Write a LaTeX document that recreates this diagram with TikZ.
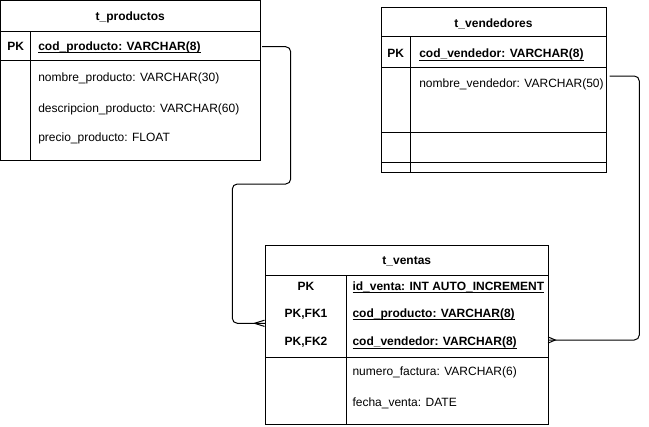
\documentclass[tikz,border=0pt]{standalone}
\usepackage{fontspec}
\setmainfont{Liberation Sans}
\newcommand\ulkey[1]{\setbox0\hbox{\bfseries #1}\rlap{\rule[-2.4pt]{\wd0}{0.7pt}}\box0}
\tikzset{
  box/.style={draw=black, line width=0.75pt, inner sep=0pt, outer sep=0pt, anchor=north west},
  sep/.style={draw=black, line width=0.75pt},
  txt/.style={inner sep=0pt, outer sep=0pt, anchor=base west, text=black, font=\fontsize{9pt}{11pt}\selectfont},
  ctxt/.style={txt, anchor=base},
  conn/.style={draw=black, line width=0.75pt, rounded corners=3.75pt},
  foot/.style={draw=black, line width=0.75pt}
}
\begin{document}
\begin{tikzpicture}[x=0.75pt, y=-0.75pt]
\useasboundingbox (0,0) rectangle (649,426);
% ---------- t_productos
\node[box, minimum width=259.5*0.75pt, minimum height=159.5*0.75pt] (prod) at (0.5,0.5) {};
\draw[sep] (0.5,31) -- (260,31);
\draw[sep] (0.5,60) -- (260,60);
\draw[sep] (30.7,31) -- (30.7,160);
\node[ctxt] (prodT) at (130.25,20) {\bfseries t\_productos};
\node[ctxt] (prodPK) at (15.6,50) {\bfseries PK};
\node[txt] (prodA1) at (38.3,50) {\ulkey{cod\_producto: VARCHAR(8)}};
\node[txt] (prodA2) at (38.3,81.7) {nombre\_producto: VARCHAR(30)};
\node[txt] (prodA3) at (38.3,112) {descripcion\_producto: VARCHAR(60)};
\node[txt] (prodA4) at (38.3,141.7) {precio\_producto: FLOAT};
% ---------- t_vendedores
\node[box, minimum width=225*0.75pt, minimum height=165*0.75pt] (vend) at (381,7.3) {};
\draw[sep] (381,36.7) -- (606,36.7);
\draw[sep] (381,67.7) -- (606,67.7);
\draw[sep] (381,132.3) -- (606,132.3);
\draw[sep] (381,162.3) -- (606,162.3);
\draw[sep] (410.7,36.7) -- (410.7,172.3);
\node[ctxt] (vendT) at (493.5,27.3) {\bfseries t\_vendedores};
\node[ctxt] (vendPK) at (395.8,57.3) {\bfseries PK};
\node[txt] (vendA1) at (419.3,57.3) {\ulkey{cod\_vendedor: VARCHAR(8)}};
\node[txt] (vendA2) at (419.3,87.3) {nombre\_vendedor: VARCHAR(50)};
% ---------- t_ventas
\node[box, minimum width=282.3*0.75pt, minimum height=179.5*0.75pt] (vent) at (265.7,245.3) {};
\draw[sep] (265.7,275.5) -- (548,275.5);
\draw[sep] (265.7,357) -- (548,357);
\draw[sep] (346,275.5) -- (346,424.8);
\node[ctxt] (ventT) at (406.8,264) {\bfseries t\_ventas};
\node[ctxt] (ventK1) at (306,290) {\bfseries PK};
\node[ctxt] (ventK2) at (306,317) {\bfseries PK,FK1};
\node[ctxt] (ventK3) at (306,345.5) {\bfseries PK,FK2};
\node[txt] (ventA1) at (352.5,290) {\ulkey{id\_venta: INT AUTO\_INCREMENT}};
\node[txt] (ventA2) at (352.5,317) {\ulkey{cod\_producto: VARCHAR(8)}};
\node[txt] (ventA3) at (352.5,345.5) {\ulkey{cod\_vendedor: VARCHAR(8)}};
\node[txt] (ventA4) at (352.5,375) {numero\_factura: VARCHAR(6)};
\node[txt] (ventA5) at (352.5,406.7) {fecha\_venta: DATE};
% ---------- connectors
\coordinate (s1) at (262,46.7);
\coordinate (e1) at (265.7,323.3);
\draw[conn] (s1) -- (290.7,46.7) -- (290.7,184) -- (232.3,184) -- (232.3,323.3) -- (e1);
\draw[foot] (264.5,320.2) -- (254.5,323.3) -- (264.5,326.4);
\coordinate (s2) at (609.5,76);
\coordinate (e2) at (548,340);
\draw[conn] (s2) -- (639.3,76) -- (639.3,340) -- (e2);
\draw[foot] (548,336.9) -- (555.3,340) -- (548,343.1);
\end{tikzpicture}
\end{document}
